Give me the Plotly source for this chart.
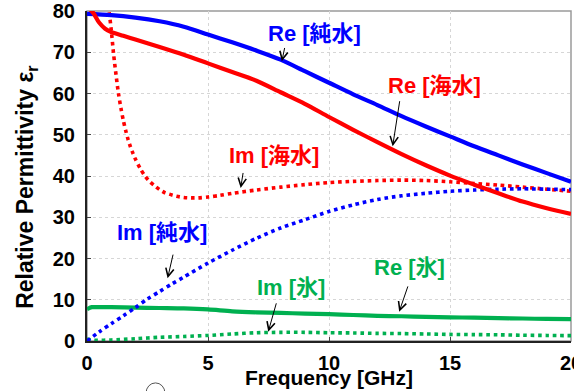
import plotly.graph_objects as go

# ---- data ----
f_re_pure = [0, 1, 2, 3, 4, 5, 6, 7, 8, 9, 10, 11, 12, 13, 14, 15, 16, 17, 18, 19, 20]
re_pure = [79.3, 79.0, 78.4, 77.5, 76.2, 74.3, 72.4, 70.4, 68.2, 65.4, 62.6, 59.8, 57.2,
           54.5, 52.0, 49.6, 47.2, 45.0, 42.8, 40.7, 38.6]

f_im_pure = [0, 0.5, 1, 1.5, 2, 2.5, 3, 3.5, 4, 5, 6, 7, 8, 9, 10, 11, 12, 13, 14, 15, 16,
             17, 18, 19, 20]
im_pure = [0.0, 2.2, 4.2, 6.1, 8.1, 10.2, 12.0, 13.8, 15.5, 18.9, 22.0, 24.9, 27.4, 29.4,
           31.4, 33.0, 34.3, 35.2, 35.8, 36.3, 36.6, 36.8, 36.9, 36.8, 36.7]

f_re_sea = [0.05, 0.25, 0.5, 0.75, 1, 1.5, 2, 3, 4, 5, 6, 7, 8, 9, 10, 11, 12, 13, 14, 15,
            16, 17, 18, 19, 20]
re_sea = [80.8, 79.6, 77.2, 75.7, 74.9, 74.0, 73.1, 71.3, 69.4, 67.3, 65.2, 63.1, 60.3,
          57.5, 54.3, 51.2, 48.2, 45.3, 42.6, 40.1, 37.9, 35.8, 33.8, 32.2, 30.8]

f_im_sea = [0.8, 0.9, 1.0, 1.1, 1.2, 1.3, 1.4, 1.5, 1.6, 1.7, 1.8, 1.9, 2.0, 2.2, 2.4, 2.6,
            2.8, 3.0, 3.2, 3.4, 3.7, 4.0, 4.3, 4.6, 5.0, 5.5, 6.0, 7, 8, 9, 10, 11, 12, 13,
            14, 15, 16, 17, 18, 19, 20]
im_sea = [85.0, 80.5, 75.5, 69.5, 64.5, 60.0, 56.5, 53.5, 51.0, 48.8, 47.0, 45.5, 44.1,
          41.8, 40.0, 38.6, 37.6, 36.7, 36.0, 35.6, 35.1, 34.8, 34.7, 34.7, 34.9, 35.3,
          35.8, 36.6, 37.3, 37.9, 38.4, 38.7, 38.9, 39.0, 38.9, 38.6, 38.2, 37.8, 37.3,
          36.8, 36.3]

f_re_ice = [0, 0.2, 0.5, 1, 2, 3, 4, 5, 6, 7, 8, 9, 10, 11, 12, 13, 14, 15, 16, 17, 18, 19, 20]
re_ice = [7.7, 8.2, 8.2, 8.2, 8.1, 8.0, 7.9, 7.65, 7.2, 6.95, 6.8, 6.65, 6.5, 6.3, 6.1,
          6.0, 5.85, 5.75, 5.65, 5.55, 5.45, 5.35, 5.3]

f_im_ice = [0, 0.3, 1, 2, 3, 4, 5, 6, 7, 8, 9, 10, 11, 12, 13, 14, 15, 16, 17, 18, 19, 20]
im_ice = [0.5, 0.2, 0.25, 0.55, 0.9, 1.1, 1.35, 1.7, 2.0, 2.1, 2.1, 2.0, 1.95, 1.85, 1.8,
          1.7, 1.6, 1.55, 1.5, 1.4, 1.35, 1.3]

x_ticks = [0, 5, 10, 15, 20]
y_ticks = [0, 10, 20, 30, 40, 50, 60, 70, 80]

BLUE = "#0000FF"
RED = "#FF0000"
GREEN = "#00B050"
FONT = "Liberation Sans, Arial, Noto Sans CJK JP, sans-serif"

fig = go.Figure()


def add(x, y, color, dotted):
    fig.add_trace(go.Scatter(
        x=x, y=y, mode="lines", hoverinfo="skip",
        line=dict(color=color, width=3.6 if dotted else 4.2,
                  dash="3.6px,3.8px" if dotted else "solid", shape="spline", smoothing=0.8)))


add(f_re_ice, re_ice, GREEN, False)
add(f_im_ice, im_ice, GREEN, True)
add(f_im_sea, im_sea, RED, True)
add(f_im_pure, im_pure, BLUE, True)
add(f_re_pure, re_pure, BLUE, False)
add(f_re_sea, re_sea, RED, False)

# labels: (text, color, text x, text y, arrow tail x, tail y, tip x, tip y)
labels = [
    ("Re [純水]", BLUE, 9.42, 74.5, 8.18, 71.4, 8.05, 67.8),
    ("Re [海水]", RED, 14.34, 61.9, 12.93, 58.5, 12.63, 47.2),
    ("Im [海水]", RED, 7.73, 44.9, 6.46, 41.1, 6.35, 37.1),
    ("Im [純水]", BLUE, 3.10, 26.2, 3.57, 21.3, 3.33, 15.2),
    ("Im [氷]", GREEN, 8.43, 13.0, 7.84, 9.5, 7.49, 2.26),
    ("Re [氷]", GREEN, 13.31, 17.8, 13.28, 13.6, 12.90, 7.1),
]
for t, c, tx, ty, ax, ay, hx, hy in labels:
    fig.add_annotation(x=tx, y=ty, text=t, showarrow=False, xanchor="center", yanchor="middle",
                       font=dict(family=FONT, size=22, color=c, weight="bold"))
    fig.add_annotation(x=hx, y=hy, ax=ax, ay=ay, axref="x", ayref="y", text="",
                       showarrow=True, arrowhead=5, arrowsize=1.6, arrowwidth=1,
                       arrowcolor="#000000")

# axis titles (placed as in the reference)
fig.add_annotation(xref="paper", yref="paper", x=-0.124, y=0.467,
                   text="Relative Permittivity ε<sub>r</sub>", textangle=-90,
                   showarrow=False, xanchor="center", yanchor="middle",
                   font=dict(family=FONT, size=23, weight="bold", color="#000000"))
fig.add_annotation(xref="paper", yref="paper", x=0.5, y=-0.112,
                   text="Frequency [GHz]",
                   showarrow=False, xanchor="center", yanchor="middle",
                   font=dict(family=FONT, size=21, weight="bold", color="#000000"))

# plot border (top/right in gray)
fig.add_shape(type="rect", xref="paper", yref="paper", x0=0, y0=0, x1=1, y1=1,
              line=dict(color="#9a9a9a", width=1.5), layer="below")
# small circle artifact at the bottom
fig.add_shape(type="circle", xref="paper", yref="paper", x0=0.122, x1=0.161,
              y0=-0.188, y1=-0.127, line=dict(color="#555555", width=1),
              fillcolor="white", layer="above")

fig.update_layout(
    width=574, height=391,
    margin=dict(l=87, r=3, t=11, b=50, autoexpand=False),
    paper_bgcolor="white", plot_bgcolor="white",
    showlegend=False,
    font=dict(family=FONT, color="#000000"),
    xaxis=dict(range=[0, 20], tickvals=x_ticks, ticktext=[str(v) for v in x_ticks],
               automargin=False,
               showline=True, linecolor="#222222", linewidth=2,
               ticks="inside", ticklen=4, tickcolor="#444444",
               ticklabeloverflow="allow", ticklabelstandoff=3,
               showgrid=True, gridcolor="#d6d6d6", gridwidth=1, griddash="dot",
               zeroline=False,
               tickfont=dict(size=20, weight="bold", family=FONT)),
    yaxis=dict(range=[0, 80], tickvals=y_ticks, ticktext=[str(v) for v in y_ticks],
               automargin=False,
               showline=True, linecolor="#222222", linewidth=2,
               ticks="inside", ticklen=4, tickcolor="#444444",
               ticklabeloverflow="allow", ticklabelstandoff=6,
               showgrid=True, gridcolor="#d6d6d6", gridwidth=1, griddash="dot",
               zeroline=False,
               tickfont=dict(size=20, weight="bold", family=FONT)),
)

fig.write_html("out.html")
